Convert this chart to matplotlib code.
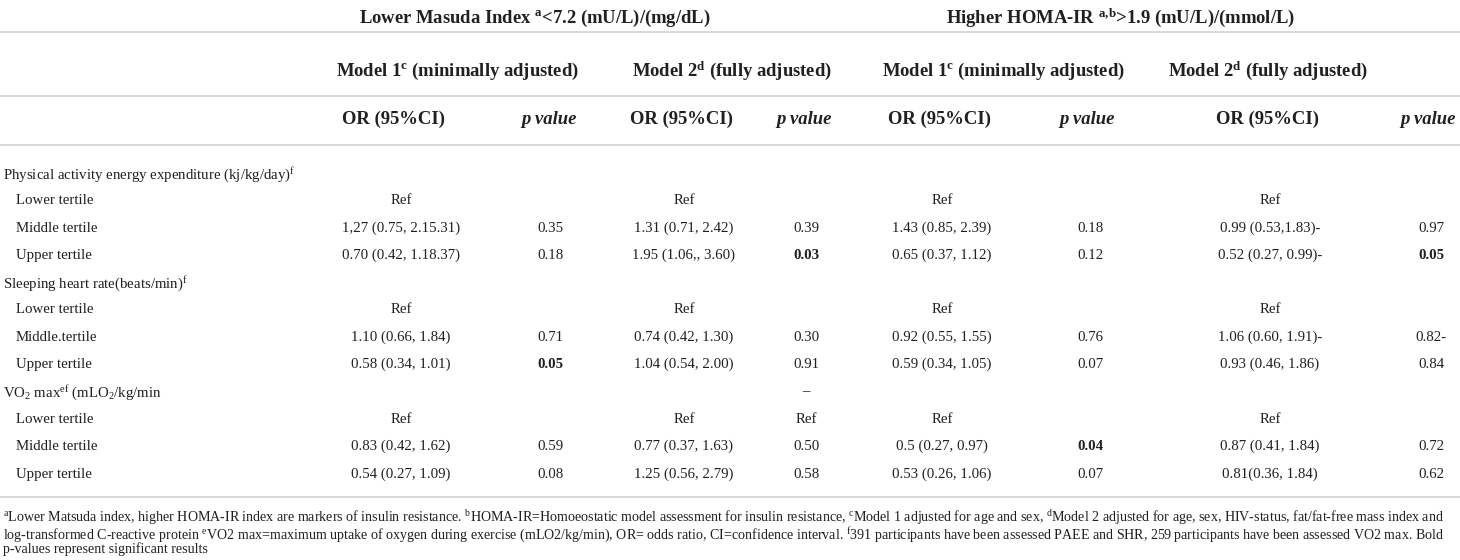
import matplotlib
matplotlib.use("Agg")
import matplotlib.pyplot as plt

plt.rcParams['font.family'] = ['Liberation Serif', 'DejaVu Serif']
plt.rcParams['mathtext.fontset'] = 'custom'
plt.rcParams['mathtext.rm'] = 'Liberation Serif'
plt.rcParams['mathtext.it'] = 'Liberation Serif:italic'
plt.rcParams['mathtext.bf'] = 'Liberation Serif:bold'

# ---------------- data ----------------
title_left = r"Lower Masuda Index $^{\mathbf{a}}$<7.2 (mU/L)/(mg/dL)"
title_right = r"Higher HOMA-IR $^{\mathbf{a{,}b}}$>1.9 (mU/L)/(mmol/L)"
model_labels = [r"Model 1$^{\mathbf{c}}$ (minimally adjusted)",
                r"Model 2$^{\mathbf{d}}$ (fully adjusted)",
                r"Model 1$^{\mathbf{c}}$ (minimally adjusted)",
                r"Model 2$^{\mathbf{d}}$ (fully adjusted)"]
col_headers = ["OR (95%CI)", "p value", "OR (95%CI)", "p value",
               "OR (95%CI)", "p value", "OR (95%CI)", "p value"]

row_labels = [r"Physical activity energy expenditure (kj/kg/day)$^{\mathrm{f}}$",
              "Lower tertile", "Middle tertile", "Upper tertile",
              r"Sleeping heart rate(beats/min)$^{\mathrm{f}}$",
              "Lower tertile", "Middle.tertile", "Upper tertile",
              r"VO$_2$ max$^{\mathrm{ef}}$ (mLO$_2$/kg/min",
              "Lower tertile", "Middle tertile", "Upper tertile"]
row_indent = [0, 1, 1, 1, 0, 1, 1, 1, 0, 1, 1, 1]

masuda_m1_or = ["", "Ref", "1,27 (0.75, 2.15.31)", "0.70 (0.42, 1.18.37)", "", "Ref",
                "1.10 (0.66, 1.84)", "0.58 (0.34, 1.01)", "", "Ref",
                "0.83 (0.42, 1.62)", "0.54 (0.27, 1.09)"]
masuda_m1_p = ["", "", "0.35", "0.18", "", "", "0.71", "0.05", "", "", "0.59", "0.08"]
masuda_m2_or = ["", "Ref", "1.31 (0.71, 2.42)", "1.95 (1.06,, 3.60)", "", "Ref",
                "0.74 (0.42, 1.30)", "1.04 (0.54, 2.00)", "", "Ref",
                "0.77 (0.37, 1.63)", "1.25 (0.56, 2.79)"]
masuda_m2_p = ["", "", "0.39", "0.03", "", "", "0.30", "0.91", "\u2013", "Ref", "0.50", "0.58"]
homa_m1_or = ["", "Ref", "1.43 (0.85, 2.39)", "0.65 (0.37, 1.12)", "", "Ref",
              "0.92 (0.55, 1.55)", "0.59 (0.34, 1.05)", "", "Ref",
              "0.5 (0.27, 0.97)", "0.53 (0.26, 1.06)"]
homa_m1_p = ["", "", "0.18", "0.12", "", "", "0.76", "0.07", "", "", "0.04", "0.07"]
homa_m2_or = ["", "Ref", "0.99 (0.53,1.83)-", "0.52 (0.27, 0.99)-", "", "Ref",
              "1.06 (0.60, 1.91)-", "0.93 (0.46, 1.86)", "", "Ref",
              "0.87 (0.41, 1.84)", "0.81(0.36, 1.84)"]
homa_m2_p = ["", "", "0.97", "0.05", "", "", "0.82-", "0.84", "", "", "0.72", "0.62"]

columns = [masuda_m1_or, masuda_m1_p, masuda_m2_or, masuda_m2_p,
           homa_m1_or, homa_m1_p, homa_m2_or, homa_m2_p]
# significant (bold) p values: (column index, row index)
bold_cells = {(1, 7), (3, 3), (5, 10), (7, 3)}

footnotes = [
    r"$^{\mathrm{a}}$Lower Matsuda index, higher HOMA-IR index are markers of insulin resistance. "
    r"$^{\mathrm{b}}$HOMA-IR=Homoeostatic model assessment for insulin resistance, "
    r"$^{\mathrm{c}}$Model 1 adjusted for age and sex, "
    r"$^{\mathrm{d}}$Model 2 adjusted for age, sex, HIV-status, fat/fat-free mass index and",
    r"log-transformed C-reactive protein $^{\mathrm{e}}$VO2 max=maximum uptake of oxygen during exercise "
    r"(mLO2/kg/min), OR= odds ratio, CI=confidence interval. "
    r"$^{\mathrm{f}}$391 participants have been assessed PAEE and SHR, 259 participants have been assessed VO2 max. Bold",
    r"p-values represent significant results",
]

# ---------------- layout ----------------
W, H = 1460, 560
fig = plt.figure(figsize=(W / 100, H / 100), dpi=100)
ax = fig.add_axes([0, 0, 1, 1])
ax.set_xlim(0, W)
ax.set_ylim(H, 0)
ax.axis('off')
fig.canvas.draw()
renderer = fig.canvas.get_renderer()

TXT = '#231f20'
LINE = '#d6d6d6'


def fit_size(s, target, **kw):
    t = ax.text(0, 0, s, fontsize=10, **kw)
    w = t.get_window_extent(renderer).width
    t.remove()
    return 10 * target / w


fs_data = fit_size("1,27 (0.75, 2.15.31)", 117)
fs_head = fit_size(model_labels[0], 243, fontweight='bold')
fs_foot = fit_size(footnotes[0], 1440)

# horizontal rules
for y in [32, 96, 145, 497]:
    ax.plot([0, W], [y, y], color=LINE, lw=1.3, solid_capstyle='butt')

# title row
ax.text(535, 15, title_left, ha='center', va='center_baseline', fontsize=fs_head,
        fontweight='bold', color=TXT)
ax.text(1121, 15, title_right, ha='center', va='center_baseline', fontsize=fs_head,
        fontweight='bold', color=TXT)

# model row
model_x = [457, 732, 1003, 1268]
for x, s in zip(model_x, model_labels):
    ax.text(x, 68, s, ha='center', va='center_baseline', fontsize=fs_head,
            fontweight='bold', color=TXT)

# column header row
head_x = [394, 549, 681, 804, 940, 1087, 1268, 1428]
for x, s in zip(head_x, col_headers):
    st = 'italic' if s.startswith('p ') else 'normal'
    ax.text(x, 117, s, ha='center', va='center_baseline', fontsize=fs_head,
            fontweight='bold', fontstyle=st, color=TXT)

# body
row_y = [172, 199, 227, 254, 281, 308, 336, 363, 390, 418, 445, 473]
data_x = [401, 550, 684, 806, 942, 1090, 1270, 1431]
for i, (lab, ind) in enumerate(zip(row_labels, row_indent)):
    ax.text(3 + 13 * ind, row_y[i], lab, ha='left', va='center_baseline',
            fontsize=fs_data, color=TXT)
for c, col in enumerate(columns):
    for r, s in enumerate(col):
        if not s:
            continue
        ax.text(data_x[c], row_y[r], s, ha='center', va='center_baseline',
                fontsize=fs_data, color=TXT,
                fontweight='bold' if (c, r) in bold_cells else 'normal')

# footnotes
for y, s in zip([515, 532, 548], footnotes):
    ax.text(3, y, s, ha='left', va='center_baseline', fontsize=fs_foot, color=TXT)

fig.savefig('out.png', dpi=100)
